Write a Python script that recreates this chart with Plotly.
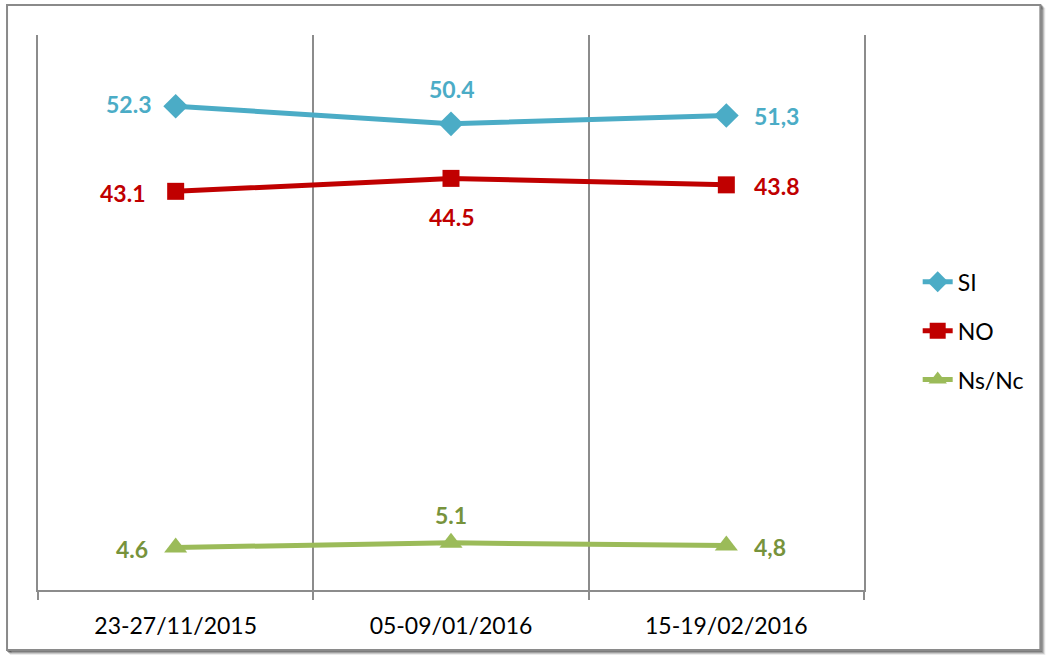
import plotly.graph_objects as go

# Datos
fechas = ["23-27/11/2015", "05-09/01/2016", "15-19/02/2016"]
si = [52.3, 50.4, 51.3]
no = [43.1, 44.5, 43.8]
nsnc = [4.6, 5.1, 4.8]
si_labels = ["52.3", "50.4", "51,3"]
no_labels = ["43.1", "44.5", "43.8"]
nsnc_labels = ["4.6", "5.1", "4,8"]

COLOR_SI = "#4BACC6"
COLOR_NO = "#C00000"
COLOR_NS = "#9BBB59"
COLOR_NS_TEXT = "#77933C"
COLOR_GRID = "#8C8C8C"
FONT_FAMILY = "Lato"
SIZE_TEXT = 23

fig = go.Figure()

series = [
    ("SI", si, COLOR_SI, "diamond", 19),
    ("NO", no, COLOR_NO, "square", 17),
    ("Ns/Nc", nsnc, COLOR_NS, "triangle-up", 20),
]
for name, vals, color, symbol, size in series:
    fig.add_trace(go.Scatter(
        x = fechas,
        y = vals,
        name = name,
        mode = "lines+markers",
        line = dict(color=color, width=5),
        marker = dict(color=color, symbol=symbol, size=size),
        legendgroup = name,
    ))

# Etiquetas de datos: (valores, textos, color, [(xanchor, xshift, yshift), ...])
etiquetas = [
    (si, si_labels, COLOR_SI, [("right", -23, 2), ("center", 0, 35), ("left", 26, -1)]),
    (no, no_labels, COLOR_NO, [("right", -29, -2), ("center", 0, -39), ("left", 26, -1)]),
    (nsnc, nsnc_labels, COLOR_NS_TEXT, [("right", -26, -2), ("center", 0, 28), ("left", 26, -1)]),
]
for vals, labels, color, pos in etiquetas:
    for xi, v, t, (anchor, dx, dy) in zip(fechas, vals, labels, pos):
        fig.add_annotation(
            x = xi, y = v, text = t,
            showarrow = False,
            xanchor = anchor, yanchor = "middle",
            xshift = dx, yshift = dy,
            font = dict(family=FONT_FAMILY, size=SIZE_TEXT, color=color, weight="bold"),
        )

# Marco del gráfico con sombra
for i, op in enumerate([0.35, 0.25, 0.15, 0.08]):
    fig.add_shape(
        type = "rect", xref = "paper", yref = "paper",
        x0 = -0.0375 + 0.0012 * (i + 1), x1 = 1.2135 + 0.0012 * (i + 1),
        y0 = -0.108 - 0.0018 * (i + 1), y1 = 1.054 - 0.0018 * (i + 1),
        line = dict(color=f"rgba(0,0,0,{op})", width=2),
        layer = "below",
    )
fig.add_shape(
    type = "rect", xref = "paper", yref = "paper",
    x0 = -0.0375, x1 = 1.2135, y0 = -0.108, y1 = 1.054,
    line = dict(color="#8A8A8A", width=2),
    fillcolor = "white",
    layer = "below",
)

fig.update_layout(
    width = 1048,
    height = 656,
    margin = dict(l=38, r=184, t=35, b=66),
    paper_bgcolor = "white",
    plot_bgcolor = "rgba(0,0,0,0)",
    font = dict(family=FONT_FAMILY, size=SIZE_TEXT, color="black"),
    xaxis = dict(
        type = "category",
        range = [-0.5, 2.5],
        tickson = "boundaries",
        ticks = "outside",
        ticklen = 8,
        tickcolor = COLOR_GRID,
        tickwidth = 1.5,
        showgrid = True,
        gridcolor = COLOR_GRID,
        gridwidth = 1.5,
        showline = True,
        linecolor = COLOR_GRID,
        linewidth = 1.5,
        ticklabelstandoff = 15,
        tickfont = dict(family=FONT_FAMILY, size=SIZE_TEXT, color="black"),
    ),
    yaxis = dict(
        range = [0, 60],
        showgrid = False,
        zeroline = False,
        showticklabels = False,
        showline = True,
        mirror = True,
        linecolor = COLOR_GRID,
        linewidth = 1.5,
    ),
    showlegend = True,
    legend = dict(
        x = 1.065, y = 0.467,
        xanchor = "left", yanchor = "middle",
        font = dict(family=FONT_FAMILY, size=SIZE_TEXT, color="black"),
        tracegroupgap = 16,
        bgcolor = "rgba(0,0,0,0)",
    ),
)

# quitar el margen por defecto del body para que la figura empiece en (0, 0)
fig.write_html(
    "out.html",
    config = {"displayModeBar": False},
    post_script = "document.body.style.margin = '0';",
)
